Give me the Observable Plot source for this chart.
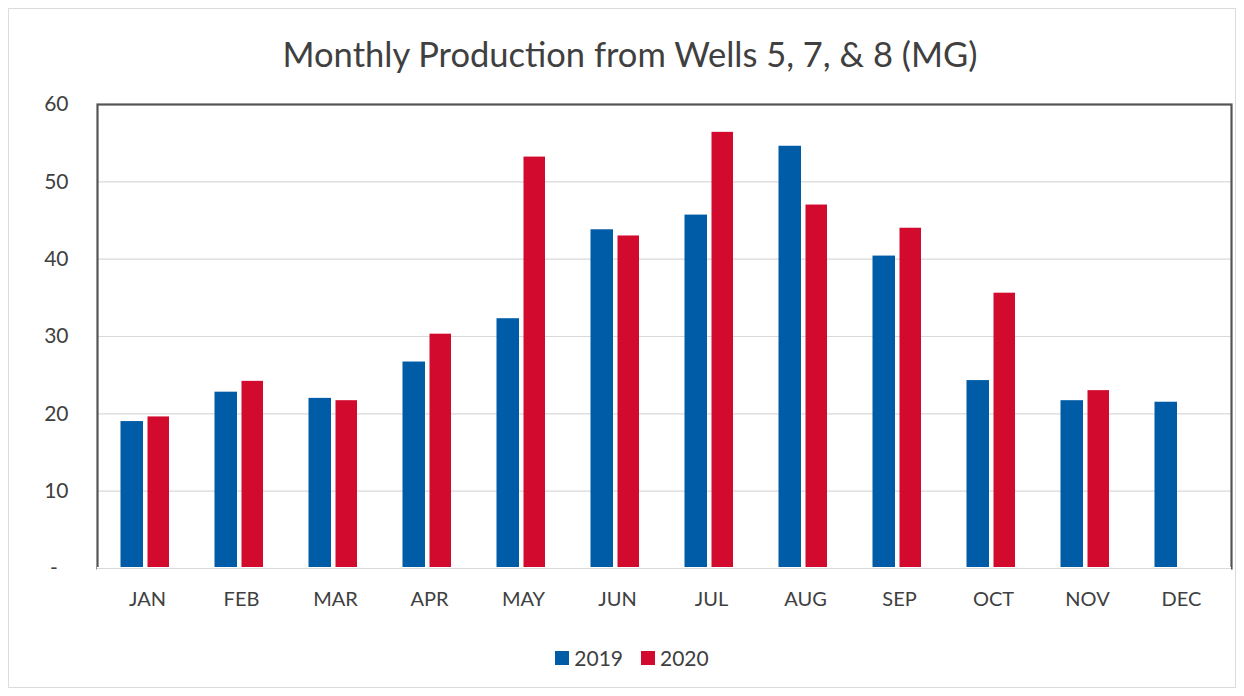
<!DOCTYPE html>
<html>
<head>
<meta charset="utf-8">
<script src="https://cdn.jsdelivr.net/npm/d3@7"></script>
<script src="https://cdn.jsdelivr.net/npm/@observablehq/plot@0.6"></script>
<style>
  html, body { margin: 0; padding: 0; background: #fff; }
  body { width: 1244px; height: 696px; position: relative; overflow: hidden; font-family: Lato, "Open Sans", sans-serif; color: #404040; }
  #border { position: absolute; left: 8px; top: 8px; width: 1228px; height: 680px; border: 1px solid #dcdcdc; box-sizing: border-box; }
  #title { position: absolute; left: 0; top: 32px; width: 1260px; text-align: center; font-size: 34.5px; line-height: 44px; color: #404040; }
  #chart { position: absolute; left: 0; top: 90px; }
  #legend { position: absolute; left: 10px; top: 644px; width: 1244px; display: flex; justify-content: center; align-items: center; font-size: 21px; line-height: 28px; color: #404040; }
  .item { display: flex; align-items: center; margin: 0 9px; }
  .sw { width: 14px; height: 14px; margin-right: 5px; }
</style>
</head>
<body>
<div id="border"></div>
<div id="title">Monthly Production from Wells 5, 7, &amp; 8 (MG)</div>
<div id="chart"></div>
<div id="legend"></div>
<script>
const months = ["JAN","FEB","MAR","APR","MAY","JUN","JUL","AUG","SEP","OCT","NOV","DEC"];
const series = ["2019", "2020"];
const values2019 = [19.0, 22.8, 22.0, 26.7, 32.3, 43.8, 45.7, 54.6, 40.4, 24.3, 21.7, 21.5];
const values2020 = [19.6, 24.2, 21.7, 30.3, 53.2, 43.0, 56.4, 47.0, 44.0, 35.6, 23.0, null];
const yTicks = [0, 10, 20, 30, 40, 50, 60];
const yTickLabels = ["-\u00a0\u00a0", "10", "20", "30", "40", "50", "60"];
const gridTicks = [10, 20, 30, 40, 50];

const colors = ["#005ca6", "#d20a2e"];

const rows2019 = months.map((m, i) => ({month: m, value: values2019[i]}));
const rows2020 = months.map((m, i) => ({month: m, value: values2020[i]})).filter(d => d.value != null);

const chart = Plot.plot({
  width: 1244,
  height: 530,
  marginLeft: 97,
  marginRight: 13,
  marginTop: 14,
  marginBottom: 52,
  style: {fontFamily: "Lato, 'Open Sans', sans-serif", color: "#404040", background: "transparent", overflow: "visible"},
  x: {domain: months, padding: 0, axis: null},
  y: {domain: [0, 60], axis: null},
  marks: [
    Plot.ruleY(gridTicks, {stroke: "#d9d9d9", strokeWidth: 1.2}),
    Plot.barY(rows2019, {x: "month", y: "value", fill: colors[0], insetLeft: 20.5, insetRight: 51}),
    Plot.barY(rows2020, {x: "month", y: "value", fill: colors[1], insetLeft: 47.5, insetRight: 25}),
    Plot.frame({stroke: "#555", strokeWidth: 2.2}),
    Plot.ruleY([0], {stroke: "#fff", strokeWidth: 3}),
    Plot.ruleY([0], {stroke: "#d9d9d9", strokeWidth: 1.2}),
    Plot.axisY(yTicks, {tickSize: 0, tickPadding: 29, fontSize: 21, label: null, tickFormat: (d) => yTickLabels[yTicks.indexOf(d)], fill: "#404040"}),
    Plot.axisX(months, {tickSize: 0, tickPadding: 23, fontSize: 20, label: null, fill: "#404040"})
  ]
});
document.getElementById("chart").appendChild(chart);

// Legend built from the same ordinal color scale
const colorScale = Plot.scale({color: {type: "ordinal", domain: series, range: colors}});
const legendDiv = document.getElementById("legend");
series.forEach(s => {
  const item = document.createElement("div");
  item.className = "item";
  const sw = document.createElement("div");
  sw.className = "sw";
  sw.style.background = colorScale.apply(s);
  const label = document.createElement("span");
  label.textContent = s;
  item.appendChild(sw);
  item.appendChild(label);
  legendDiv.appendChild(item);
});
</script>
</body>
</html>
